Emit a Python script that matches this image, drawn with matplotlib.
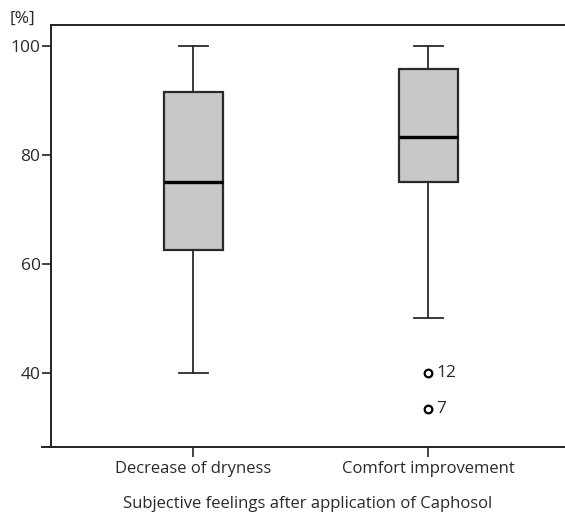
import matplotlib.pyplot as plt
from matplotlib.lines import Line2D

# данные
categories = ['Decrease of dryness', 'Comfort improvement']
whislo = [40, 50]
q1 = [62.5, 75]
med = [75, 83.2]
q3 = [91.5, 95.7]
whishi = [100, 100]
fliers = [[], [40, 33.4]]
flier_ids = ['12', '7']

plt.rcParams['font.family'] = ['Open Sans', 'DejaVu Sans']

fig = plt.figure(figsize=(5.65, 5.13), dpi=100)
ax = fig.add_axes([51 / 565, 1 - 447 / 513, 1 - 51 / 565, (447 - 25) / 513])

stats = []
for i in range(len(categories)):
    stats.append({'whislo': whislo[i], 'q1': q1[i], 'med': med[i], 'q3': q3[i],
                  'whishi': whishi[i], 'fliers': fliers[i], 'label': categories[i]})

ax.bxp(stats, positions=[1, 2], widths=0.249, capwidths=0.123, patch_artist=True,
       boxprops=dict(facecolor='#c8c8c8', edgecolor='#2a2a2a', linewidth=1.6),
       medianprops=dict(color='black', linewidth=2.4),
       whiskerprops=dict(color='#2a2a2a', linewidth=1.3),
       capprops=dict(color='#2a2a2a', linewidth=1.3),
       flierprops=dict(marker='o', markersize=5.5, markerfacecolor='white',
                       markeredgecolor='black', markeredgewidth=1.6))

# подписи выбросов
for y, t in zip(fliers[1], flier_ids):
    ax.text(2.035, y, t, va='center', ha='left', fontsize=12.5, color='#2a2a2a')

ax.set_xlim(0.394, 2.581)
ax.set_ylim(26.4, 103.8)
ax.set_yticks([40, 60, 80, 100])
ax.spines['right'].set_visible(False)
for s in ['left', 'top', 'bottom']:
    ax.spines[s].set_linewidth(1.4)
    ax.spines[s].set_color('#222222')
ax.tick_params(axis='both', direction='out', width=1.2, color='#222222',
               labelcolor='#2a2a2a')
ax.tick_params(axis='y', length=6.5, pad=1, labelsize=12.5)
ax.tick_params(axis='x', length=7, pad=3, labelsize=12)

# нижняя линия чуть выходит влево за ось
ax.add_line(Line2D([-9 / 514, 0], [0, 0], transform=ax.transAxes, color='#222222',
                   linewidth=1.4, clip_on=False))

ax.set_xlabel('Subjective feelings after application of Caphosol', fontsize=12,
              color='#2a2a2a', labelpad=14)
fig.text(10 / 565, 1 - 19 / 513, '[%]', fontsize=12.5, color='#2a2a2a', va='center', ha='left')

fig.savefig('out.png', dpi=100)
